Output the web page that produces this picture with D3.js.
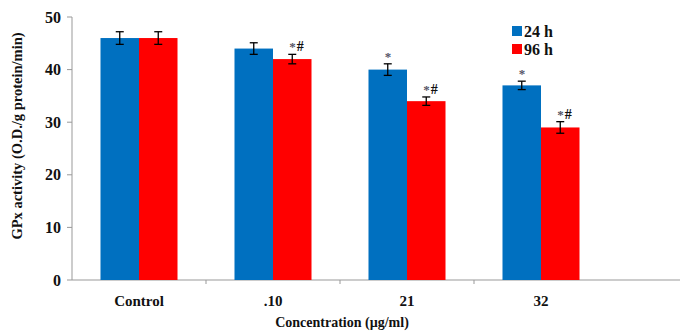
<!DOCTYPE html>
<html><head><meta charset="utf-8">
<script src="https://cdn.jsdelivr.net/npm/d3@7"></script>
<style>body{margin:0;background:#fff}svg{display:block}text{font-family:"Liberation Serif","DejaVu Serif",serif;font-weight:bold;fill:#111}</style>
</head><body><svg id="c" width="680" height="333"></svg>
<script>
const categories = ["Control", ".10", "21", "32"];
const series = ["24 h", "96 h"];
const values24 = [46, 44, 40, 37];
const values96 = [46, 42, 34, 29];
const err24 = [1.2, 1.1, 1.1, 0.8];
const err96 = [1.2, 0.9, 0.8, 1.1];
const marks24 = ["", "", "*", "*"];
const marks96 = ["", "*#", "*#", "*#"];
const yTicks = [0, 10, 20, 30, 40, 50];
const colors = ["#0070c0", "#ff0000"];

const svg = d3.select("#c");
const y = d3.scaleLinear().domain([0, 50]).range([280, 17]);
const x0 = d3.scaleBand().domain(categories).range([72, 608]).padding(0);
const x1 = d3.scaleBand().domain(series).range([0, x0.bandwidth()]).paddingInner(0).paddingOuter(0.74);

const data = categories.map((c, i) => ({c, vals: [
  {s: series[0], v: values24[i], e: err24[i], m: marks24[i]},
  {s: series[1], v: values96[i], e: err96[i], m: marks96[i]}]}));

// axes
svg.append("line").attr("x1", 72).attr("x2", 72).attr("y1", y(50)).attr("y2", y(0)).attr("stroke", "#999");
svg.append("line").attr("x1", 72).attr("x2", 680).attr("y1", y(0)).attr("y2", y(0)).attr("stroke", "#999");
yTicks.forEach(t => {
  svg.append("line").attr("x1", 67).attr("x2", 72).attr("y1", y(t)).attr("y2", y(t)).attr("stroke", "#999");
  svg.append("text").attr("x", 61).attr("y", y(t)).attr("dy", "0.35em").attr("text-anchor", "end").attr("font-size", 16).text(t);
});
categories.slice(1).forEach(c => {
  svg.append("line").attr("x1", x0(c)).attr("x2", x0(c)).attr("y1", y(0)).attr("y2", y(0) + 4).attr("stroke", "#999");
});
categories.forEach(c => {
  svg.append("text").attr("x", x0(c) + x0.bandwidth() / 2).attr("y", 306).attr("text-anchor", "middle").attr("font-size", 15).text(c);
});

const g = svg.selectAll("g.grp").data(data).join("g").attr("transform", d => `translate(${x0(d.c)},0)`);
g.selectAll("rect").data(d => d.vals).join("rect")
  .attr("x", d => x1(d.s)).attr("width", x1.bandwidth())
  .attr("y", d => y(d.v)).attr("height", d => y(0) - y(d.v))
  .attr("fill", (d, i) => colors[i]);
g.each(function(d) {
  const gg = d3.select(this);
  d.vals.forEach(v => {
    const cx = x1(v.s) + x1.bandwidth() / 2;
    gg.append("line").attr("x1", cx).attr("x2", cx).attr("y1", y(v.v + v.e)).attr("y2", y(v.v - v.e)).attr("stroke", "#000").attr("stroke-width", 1.3);
    [v.v + v.e, v.v - v.e].forEach(t => gg.append("line").attr("x1", cx - 4).attr("x2", cx + 4).attr("y1", y(t)).attr("y2", y(t)).attr("stroke", "#000").attr("stroke-width", 1.3));
    if (v.m) {
      const tx = gg.append("text").attr("x", cx - 3).attr("y", y(v.v + v.e) - 3).attr("font-size", 14);
      tx.append("tspan").attr("fill", "#556").attr("font-size", 13).text("*");
      if (v.m.includes("#")) tx.append("tspan").attr("dx", 1).attr("font-size", 14).text("#");
    }
  });
});

// legend
series.forEach((s, i) => {
  svg.append("rect").attr("x", 512).attr("y", 26 + i * 18).attr("width", 10).attr("height", 10).attr("fill", colors[i]);
  svg.append("text").attr("x", 524).attr("y", 31 + i * 18).attr("dy", "0.35em").attr("font-size", 16).text(s);
});

// titles
svg.append("text").attr("transform", "translate(22,136) rotate(-90)").attr("text-anchor", "middle").attr("font-size", 14.5).text("GPx activity (O.D./g protein/min)");
svg.append("text").attr("x", 342).attr("y", 327).attr("text-anchor", "middle").attr("font-size", 14).text("Concentration (µg/ml)");
</script></body></html>
